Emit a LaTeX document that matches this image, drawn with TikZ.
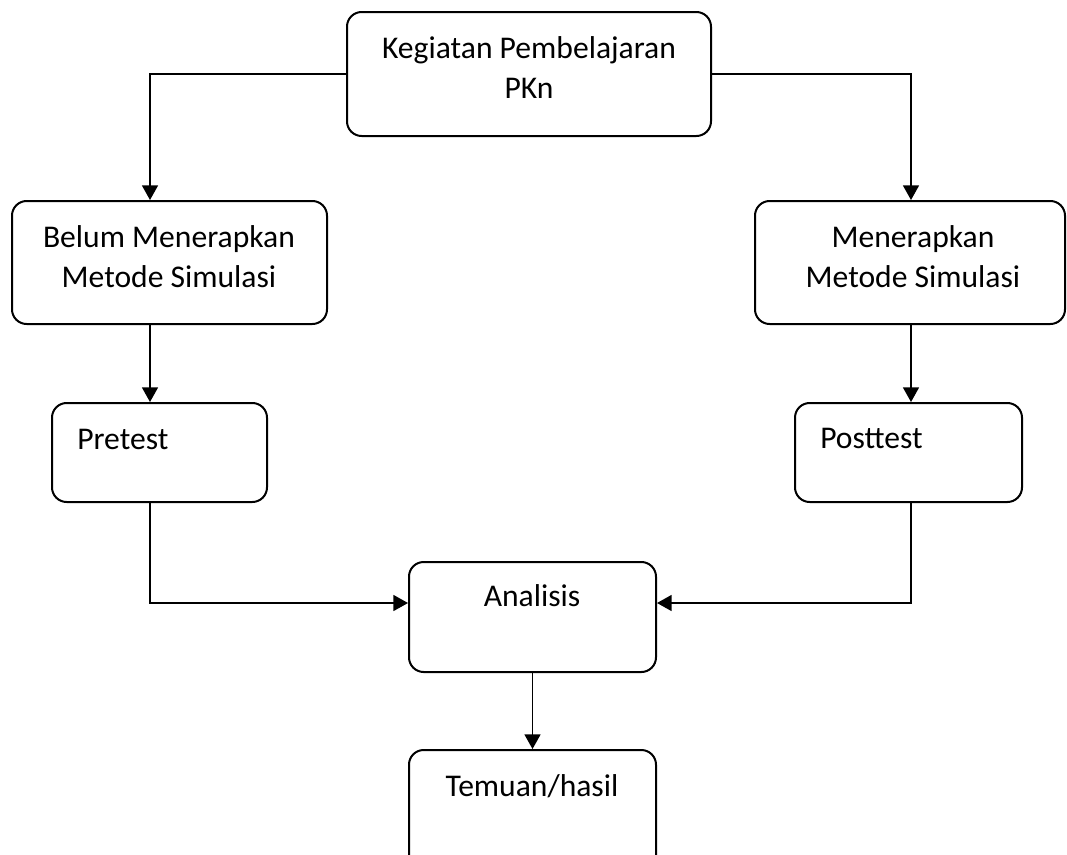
\documentclass[tikz,border=0pt]{standalone}
\usepackage{fontspec}
\setmainfont{Carlito}
\usetikzlibrary{arrows.meta,positioning,calc,fit}

\begin{document}
\begin{tikzpicture}[
		x=0.75pt,y=-0.75pt,
		lab/.style={font=\fontsize{23.7}{29.3}\selectfont,inner sep=0pt,align=center},
		arr/.style={-{Triangle[length=11pt,width=12pt]},line width=1.2pt},
		box/.style={draw,line width=1.5pt,rounded corners=11pt,inner sep=0pt}
		]
		
		% --- Canvas
		\useasboundingbox (0,0) rectangle (1067,854);
		\clip (0,0) rectangle (1067,854);
		
		% --- Boxes
		\node[box,fit={(347,12) (711,136)}] (keg) {};
		\node[box,fit={(12,201) (327,324)}] (belum) {};
		\node[box,fit={(755,201) (1065,324)}] (terap) {};
		\node[box,fit={(52,403) (267,502)}] (pre) {};
		\node[box,fit={(795,403) (1022,502)}] (post) {};
		\node[box,fit={(409,562) (656,672)}] (ana) {};
		\node[box,fit={(409,750) (656,870)}] (hasil) {};
		
		% --- Texts (base = last line)
		\node[lab,anchor=base] (kegT) at (529,98) {Kegiatan Pembelajaran\\PKn};
		\node[lab,anchor=base] (belumT) at (169,287) {Belum Menerapkan\\Metode Simulasi};
		\node[lab,anchor=base] (terapT) at (913,287) {Menerapkan\\Metode Simulasi};
		\node[lab,anchor=base west] (preT) at (77,449) {Pretest};
		\node[lab,anchor=base west] (postT) at (820,448) {Posttest};
		\node[lab,anchor=base] (anaT) at (532,606) {Analisis};
		\node[lab,anchor=base] (hasilT) at (532,796) {Temuan/hasil};
		
		% --- Connectors
		\coordinate (colL) at (150,603);
		\coordinate (colR) at (911,603);
		\draw[arr] (keg.west) -| (belum.north -| colL);
		\draw[arr] (keg.east) -| (terap.north -| colR);
		\draw[arr] (belum.south -| colL) -- (pre.north -| colL);
		\draw[arr] (terap.south -| colR) -- (post.north -| colR);
		\draw[arr] (pre.south -| colL) |- (ana.west |- colL);
		\draw[arr] (post.south -| colR) |- (ana.east |- colR);
		\draw[arr] (ana.south) -- (hasil.north);
		
	\end{tikzpicture}
\end{document}
